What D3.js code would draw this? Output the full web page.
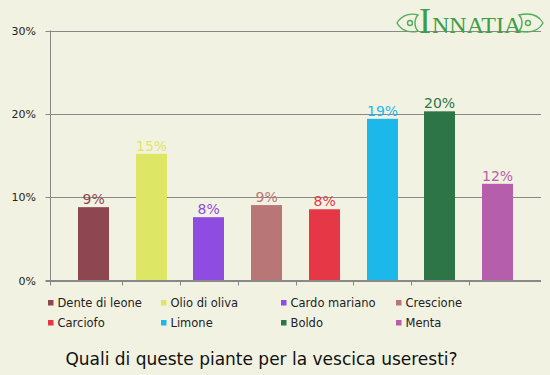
<!DOCTYPE html>
<html>
<head>
<meta charset="utf-8">
<script src="https://cdn.jsdelivr.net/npm/d3@7"></script>
<style>
  body { margin: 0; background: #f2f2e2; }
  svg { display: block; font-family: "DejaVu Sans", Verdana, sans-serif; }
</style>
</head>
<body>
<div id="chart"></div>
<script>
// data
const categories = ["Dente di leone", "Olio di oliva", "Cardo mariano", "Crescione",
                    "Carciofo", "Limone", "Boldo", "Menta"];
const values = [8.8, 15.2, 7.6, 9.05, 8.55, 19.4, 20.3, 11.6];
const valueLabels = ["9%", "15%", "8%", "9%", "8%", "19%", "20%", "12%"];
const colors = ["#8e4751", "#dde765", "#8e4ce0", "#b87676",
                "#e63746", "#1db8ea", "#2d7446", "#b55fac"];
const yTicks = [0, 10, 20, 30];
const title = "Quali di queste piante per la vescica useresti?";

let width = 550, height = 375;

let svg = d3.select("#chart").append("svg")
    .attr("width", width)
    .attr("height", height);

svg.append("rect")
    .attr("width", width)
    .attr("height", height)
    .attr("fill", "#f2f2e2");

let plot = {left: 50.5, right: 541, top: 30.5, bottom: 280.5};

let y = d3.scaleLinear()
    .domain([0, 30])
    .range([plot.bottom, plot.top]);

let x = d3.scaleBand()
    .domain(categories)
    .range([64.5, 526.5])
    .paddingInner(0.46)
    .paddingOuter(0.23);

// gridlines + y ticks
svg.append("g")
    .selectAll("line")
    .data(yTicks)
    .enter()
    .append("line")
    .attr("x1", plot.left - 5)
    .attr("x2", plot.right)
    .attr("y1", d => Math.round(y(d)) + 0.5)
    .attr("y2", d => Math.round(y(d)) + 0.5)
    .attr("stroke", "#888")
    .attr("stroke-width", 1);

svg.append("g")
    .selectAll("text")
    .data(yTicks)
    .enter()
    .append("text")
    .attr("x", 36)
    .attr("y", d => y(d) + 4)
    .attr("text-anchor", "end")
    .style("font-size", "11px")
    .attr("fill", "#222")
    .text(d => d + "%");

// bars
svg.append("g")
    .selectAll("rect")
    .data(values)
    .enter()
    .append("rect")
    .attr("x", (d, i) => Math.round(x(categories[i])))
    .attr("width", Math.round(x.bandwidth()))
    .attr("y", d => y(d))
    .attr("height", d => plot.bottom - y(d))
    .attr("fill", (d, i) => colors[i]);

// value labels
svg.append("g")
    .selectAll("text")
    .data(values)
    .enter()
    .append("text")
    .attr("x", (d, i) => Math.round(x(categories[i])) + x.bandwidth() / 2)
    .attr("y", d => y(d) - 3)
    .attr("text-anchor", "middle")
    .style("font-size", "14px")
    .attr("fill", (d, i) => colors[i])
    .text((d, i) => valueLabels[i]);

// axes lines
svg.append("line")
    .attr("x1", plot.left).attr("x2", plot.left)
    .attr("y1", plot.top).attr("y2", plot.bottom + 5)
    .attr("stroke", "#888");

svg.append("line")
    .attr("x1", plot.left - 5).attr("x2", plot.right)
    .attr("y1", plot.bottom).attr("y2", plot.bottom)
    .attr("stroke", "#888");

// x ticks on band boundaries
let step = x.step();
svg.append("g")
    .selectAll("line")
    .data(categories.slice(1))
    .enter()
    .append("line")
    .attr("x1", d => Math.round(x(d) - step * x.paddingInner() / 2) + 0.5)
    .attr("x2", d => Math.round(x(d) - step * x.paddingInner() / 2) + 0.5)
    .attr("y1", plot.bottom)
    .attr("y2", plot.bottom + 5)
    .attr("stroke", "#888");

// legend
let legendCols = [48, 161, 281, 396];
let legend = svg.append("g")
    .selectAll("g")
    .data(categories)
    .enter()
    .append("g")
    .attr("transform", (d, i) => `translate(${legendCols[i % 4]}, ${i < 4 ? 300 : 320})`);

legend.append("rect")
    .attr("width", 5.5)
    .attr("height", 5.5)
    .attr("fill", (d, i) => colors[i]);

legend.append("text")
    .attr("x", 9.5)
    .attr("y", 7)
    .style("font-size", "11.5px")
    .attr("fill", "#222")
    .text(d => d);

// title
svg.append("text")
    .attr("x", 261.5)
    .attr("y", 365)
    .attr("text-anchor", "middle")
    .style("font-size", "17px")
    .attr("fill", "#111")
    .text(title);

// logo (top right)
let logo = svg.append("g").attr("fill", "none").attr("stroke", "#55ad5a").attr("stroke-width", 1.4);
logo.append("path")
    .attr("d", "M397,23 C402,14 412,13 418,15 C414,19 414,27 418,31 C412,33 402,32 397,23 Z");
logo.append("circle").attr("cx", 410).attr("cy", 23).attr("r", 2.5);
logo.append("path")
    .attr("d", "M543,23 C538,14 528,13 519,15 C523,19 523,27 519,31 C528,33 538,32 543,23 Z");
logo.append("circle").attr("cx", 528).attr("cy", 23).attr("r", 2.5);

let logoText = svg.append("text")
    .attr("x", 419)
    .attr("y", 33)
    .attr("fill", "#3d9e48")
    .style("font-family", "'Liberation Serif', 'DejaVu Serif', serif");
logoText.append("tspan").style("font-size", "36px").text("I");
logoText.append("tspan").style("font-size", "24px").attr("dx", 1).text("NNATIA");
</script>
</body>
</html>
